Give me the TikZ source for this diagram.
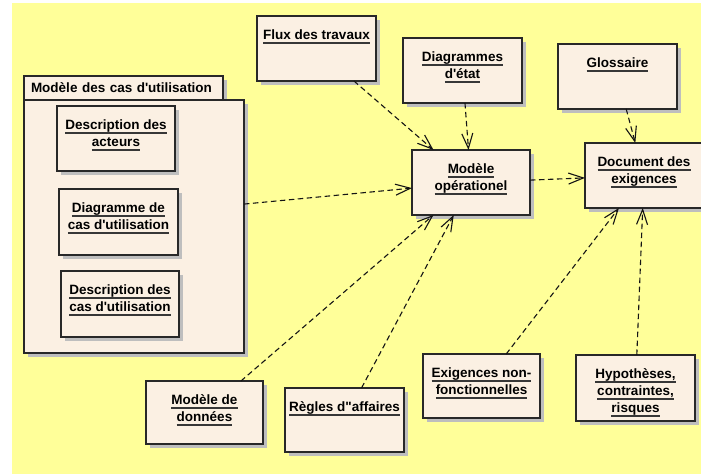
\documentclass[tikz,border=0pt]{standalone}
\usepackage{fontspec}
\setmainfont{Liberation Sans}[Ligatures=TeXOff]
\usetikzlibrary{arrows.meta,shadows}
\definecolor{bgyellow}{RGB}{255,255,153}
\definecolor{cream}{RGB}{251,240,227}
\definecolor{shadowgrey}{RGB}{190,190,190}
\definecolor{boxline}{RGB}{40,40,40}
\definecolor{ulc}{RGB}{55,55,55}
\definecolor{edgec}{RGB}{20,20,20}
\newcommand\ulx[1]{\setbox0\hbox{#1}\rule{0pt}{10pt}\rlap{\textcolor{ulc}{\rule[-4.2pt]{\wd0}{1.4pt}}}\box0}
\newcommand\boxtext[3]{\parbox[c][#2pt][t]{#1pt}{\centering\vspace*{13.5pt}#3}}
\begin{document}
\begin{tikzpicture}[x=1pt,y=1pt,
  umlbox/.style={draw=boxline, line width=1.3pt, fill=cream, inner sep=0pt, outer sep=0pt,
    anchor=north west, general shadow={fill=shadowgrey, shadow xshift=4pt, shadow yshift=-4pt},
    font=\fontsize{13.5}{17}\selectfont\bfseries},
  dep/.style={draw=edgec, line width=1.1pt, dash pattern=on 5.5pt off 3.5pt,
    -{Straight Barb[length=15pt,width=11pt,line width=1.1pt]}}]
\useasboundingbox (0,0) rectangle (701,-474);
\fill[white] (0,0) rectangle (701,-474);
\fill[bgyellow] (12,-3) rectangle (701,-474);

% package
\node[umlbox, text width=185pt, minimum width=199pt, minimum height=24pt, inner xsep=7pt, align=left] (tab) at (24,-76) {Modèle des cas d'utilisation};
\node[umlbox, minimum width=220pt, minimum height=253pt] (body) at (24,-100) {};
\node[inner sep=0pt, outer sep=0pt, minimum width=220pt, minimum height=277pt, anchor=north west] (pkg) at (24,-76) {};

\node[umlbox] (acteurs) at (57,-106) {\boxtext{118}{65}{\ulx{Description des}\\\ulx{acteurs}}};
\node[umlbox] (diagcas) at (59,-189) {\boxtext{119}{66}{\ulx{Diagramme de}\\\ulx{cas d'utilisation}}};
\node[umlbox] (desccas) at (61,-271) {\boxtext{118}{66}{\ulx{Description des}\\\ulx{cas d'utilisation}}};

\node[umlbox] (flux) at (257,-16) {\boxtext{119}{65}{\ulx{Flux des travaux}}};
\node[umlbox] (etat) at (403,-38) {\boxtext{119}{65}{\ulx{Diagrammes}\\\ulx{d'état}}};
\node[umlbox] (modop) at (412,-150) {\boxtext{118}{65}{\ulx{Modèle}\\\ulx{opérationel}}};
\node[umlbox] (gloss) at (558,-44) {\boxtext{119}{65}{\ulx{Glossaire}}};
\node[umlbox] (doc) at (585,-143) {\boxtext{118}{65}{\ulx{Document des}\\\ulx{exigences}}};

\node[umlbox] (donnees) at (146,-381) {\boxtext{117}{63}{\ulx{Modèle de}\\\ulx{données}}};
\node[umlbox] (regles) at (285,-388) {\boxtext{119}{64}{\ulx{Règles d"affaires}}};
\node[umlbox] (exnf) at (423,-354) {\boxtext{117}{64}{\ulx{Exigences non-}\\\ulx{fonctionnelles}}};
\node[umlbox] (hyp) at (576,-355) {\boxtext{119}{66}{\ulx{Hypothèses,}\\\ulx{contraintes,}\\\ulx{risques}}};

\draw[dep] (flux) -- (modop);
\draw[dep] (etat) -- (modop);
\draw[dep] (pkg) -- (modop);
\draw[dep] (modop) -- (doc);
\draw[dep] (gloss) -- (doc);
\draw[dep] (donnees) -- (modop);
\draw[dep] (regles) -- (modop);
\draw[dep] (exnf) -- (doc);
\draw[dep] (hyp) -- (doc);
\end{tikzpicture}
\end{document}
